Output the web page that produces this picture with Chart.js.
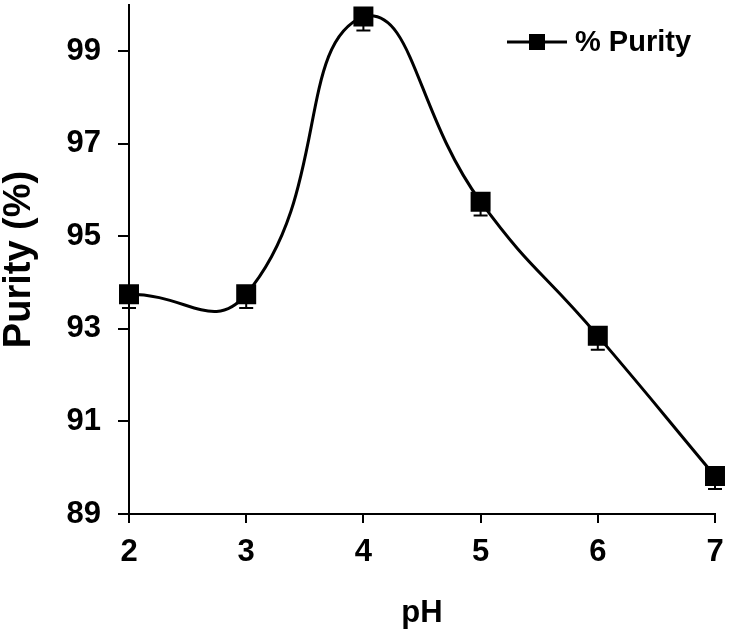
<!DOCTYPE html>
<html>
<head>
<meta charset="utf-8">
<script src="https://cdn.jsdelivr.net/npm/chart.js@4.4.1/dist/chart.umd.min.js"></script>
<style>
  html, body { margin: 0; padding: 0; background: #fff; }
  #wrap { width: 734px; height: 637px; }
</style>
</head>
<body>
<div id="wrap"><canvas id="purityChart" width="734" height="637"></canvas></div>
<script>
// --- données ---
const phValues = [2, 3, 4, 5, 6, 7];
const purity = [93.75, 93.75, 99.75, 95.75, 92.85, 89.82];
const purityErr = [0.3, 0.3, 0.3, 0.3, 0.3, 0.28];
const yTicks = [89, 91, 93, 95, 97, 99];
const seriesLabel = '% Purity';

const FONT = '"Liberation Sans", Arial, sans-serif';

// barres d'erreur (seulement vers le bas) + légende
const extras = {
    id: 'extras',
    afterDatasetsDraw(chart) {
        const ctx = chart.ctx;
        const xs = chart.scales.x, ys = chart.scales.y;
        ctx.save();
        ctx.strokeStyle = '#000';
        ctx.lineWidth = 2;
        phValues.forEach((ph, i) => {
            const px = xs.getPixelForValue(ph);
            const mid = ys.getPixelForValue(purity[i]);
            const lo = ys.getPixelForValue(purity[i] - purityErr[i]);
            ctx.beginPath();
            ctx.moveTo(px, mid); ctx.lineTo(px, lo);
            ctx.moveTo(px - 7, lo); ctx.lineTo(px + 7, lo);
            ctx.stroke();
        });

        // légende en haut à droite
        const ly = 42;
        ctx.lineWidth = 3;
        ctx.beginPath();
        ctx.moveTo(507, ly); ctx.lineTo(567, ly);
        ctx.stroke();
        ctx.fillStyle = '#000';
        ctx.fillRect(529, ly - 8, 16, 16);
        ctx.font = 'bold 29px ' + FONT;
        ctx.textBaseline = 'middle';
        ctx.textAlign = 'left';
        ctx.fillText(seriesLabel, 575, ly + 1);
        ctx.restore();
    }
};

const ctx = document.getElementById('purityChart').getContext('2d');
new Chart(ctx, {
    type: 'line',
    data: {
        datasets: [{
            label: seriesLabel,
            data: phValues.map((ph, i) => ({ x: ph, y: purity[i] })),
            borderColor: '#000',
            backgroundColor: '#000',
            borderWidth: 3,
            tension: 0.5,
            pointStyle: 'rect',
            pointRadius: 12,
            pointHoverRadius: 12,
            clip: false,
            fill: false
        }]
    },
    options: {
        responsive: false,
        animation: false,
        layout: { autoPadding: false, padding: { top: 5, right: 19, left: 0, bottom: 0 } },
        plugins: { legend: { display: false }, tooltip: { enabled: false } },
        scales: {
            x: {
                type: 'linear',
                min: 2, max: 7,
                afterFit(scale) {
                    scale.height = 123;
                    scale.paddingLeft = 0;
                    scale.paddingRight = 0;
                },
                ticks: { stepSize: 1, color: '#000', padding: 11, font: { family: FONT, size: 31, weight: 'bold' } },
                grid: { drawOnChartArea: false, color: '#000', tickLength: 9, lineWidth: 2 },
                border: { color: '#000', width: 2 },
                title: { display: true, text: 'pH', color: '#000', padding: { top: 0, bottom: 8 }, font: { family: FONT, size: 31, weight: 'bold', lineHeight: 1 } }
            },
            y: {
                min: 89, max: 100,
                afterFit(scale) {
                    scale.width = 129;
                    scale.paddingTop = 0;
                    scale.paddingBottom = 0;
                },
                afterBuildTicks(scale) { scale.ticks = yTicks.map(v => ({ value: v })); },
                ticks: { color: '#000', padding: 17, font: { family: FONT, size: 31, weight: 'bold' } },
                grid: { drawOnChartArea: false, color: '#000', tickLength: 11, lineWidth: 2 },
                border: { color: '#000', width: 2 },
                title: { display: true, text: 'Purity (%)', color: '#000', padding: { top: 1, bottom: 0 }, font: { family: FONT, size: 38, weight: 'bold', lineHeight: 1 } }
            }
        }
    },
    plugins: [extras]
});
</script>
</body>
</html>
